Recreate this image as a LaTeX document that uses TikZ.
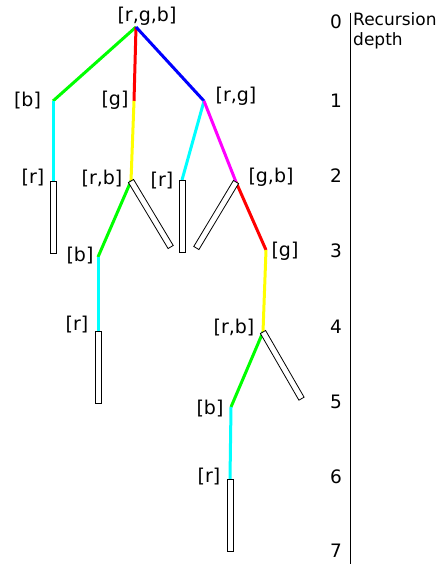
\documentclass[tikz,border=0pt]{standalone}
\usepackage{fontspec}
\setmainfont{DejaVu Sans}
\definecolor{cG}{RGB}{0,255,0}
\definecolor{cR}{RGB}{255,0,0}
\definecolor{cB}{RGB}{0,0,255}
\definecolor{cC}{RGB}{0,255,255}
\definecolor{cY}{RGB}{255,255,0}
\definecolor{cM}{RGB}{255,0,255}
\begin{document}
\begin{tikzpicture}[x=1pt,y=-1pt,
  edge/.style={line width=3pt},
  leaf/.style={draw=black, fill=white, line width=0.8pt, minimum width=6pt, minimum height=72pt, inner sep=0pt, outer sep=0pt, anchor=north},
  dleaf/.style={leaf, minimum height=77pt},
  lbl/.style={font=\fontsize{19}{21}\selectfont, inner sep=0pt},
  num/.style={font=\fontsize{18.5}{20}\selectfont, inner sep=0pt}]
\useasboundingbox (0,0) rectangle (443,564);
% tree points
\coordinate (R) at (136,27);
\coordinate (A) at (53,101);
\coordinate (B) at (134,101);
\coordinate (C) at (204,101);
\coordinate (A1) at (53,181);
\coordinate (D) at (131,181);
\coordinate (E) at (182,180);
\coordinate (F) at (236,182);
\coordinate (G) at (98,257);
\coordinate (G1) at (98,331);
\coordinate (H) at (266,250);
\coordinate (I) at (263,332);
\coordinate (J) at (231,407);
\coordinate (J1) at (230,479);
% edges
\draw[edge, cG] (R) -- (A);
\draw[edge, cR] (R) -- (B);
\draw[edge, cB] (R) -- (C);
\draw[edge, cC] (A) -- (A1);
\draw[edge, cY] (B) -- (D);
\draw[edge, cC] (C) -- (E);
\draw[edge, cM] (C) -- (F);
\draw[edge, cG] (D) -- (G);
\draw[edge, cC] (G) -- (G1);
\draw[edge, cR] (F) -- (H);
\draw[edge, cY] (H) -- (I);
\draw[edge, cG] (I) -- (J);
\draw[edge, cC] (J) -- (J1);
% leaves
\node[leaf] (LA) at (A1) {};
\node[leaf] (LE) at (E) {};
\node[leaf] (LG) at (G1) {};
\node[leaf] (LJ) at (J1) {};
\node[dleaf, rotate=31] (LD) at (D) {};
\node[dleaf, rotate=-31] (LF) at (F) {};
\node[dleaf, rotate=30] (LI) at (I) {};
% labels
\node[lbl] (tR) at (147,16) {[r,g,b]};
\node[lbl] (tA) at (27.5,101) {[b]};
\node[lbl] (tB) at (115,100) {[g]};
\node[lbl] (tC) at (236,96) {[r,g]};
\node[lbl] (tA1) at (33,178) {[r]};
\node[lbl] (tD) at (102,179) {[r,b]};
\node[lbl] (tE) at (162,181) {[r]};
\node[lbl] (tF) at (271,177) {[g,b]};
\node[lbl] (tG) at (80,256) {[b]};
\node[lbl] (tH) at (285,251) {[g]};
\node[lbl] (tG1) at (77,325) {[r]};
\node[lbl] (tI) at (234,328) {[r,b]};
\node[lbl] (tJ) at (210,409) {[b]};
\node[lbl] (tJ1) at (209,477) {[r]};
% depth axis
\coordinate (ax0) at (350,13);
\coordinate (ax1) at (350,564);
\draw[line width=0.9pt] (ax0) -- (ax1);
\node[num] (d0) at (336,22) {0};
\node[num] (d1) at (336,101) {1};
\node[num] (d2) at (336,176) {2};
\node[num] (d3) at (336,251) {3};
\node[num] (d4) at (336,327) {4};
\node[num] (d5) at (336,402) {5};
\node[num] (d6) at (336,477) {6};
\node[num] (d7) at (336,551) {7};
\node[font=\fontsize{17}{20}\selectfont, inner sep=0pt, anchor=north west, align=left] (rd) at (353,12) {Recursion\\depth};
\end{tikzpicture}
\end{document}
